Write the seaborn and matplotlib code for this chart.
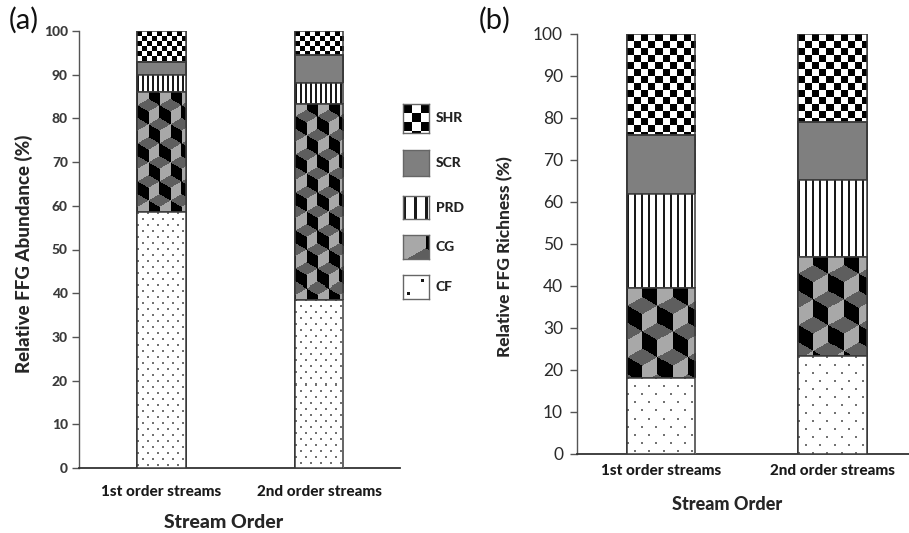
import numpy as np
import pandas as pd
import matplotlib
matplotlib.use("Agg")
import matplotlib.pyplot as plt
from matplotlib.patches import Rectangle
import seaborn as sns

# ── Style ─────────────────────────────────────────────────
sns.set_theme(style="white")
plt.rcParams["font.family"] = ["Lato", "DejaVu Sans"]

TXT = "#3a3a3a"
EDGE = "#3a3a3a"
GREY = "#7f7f7f"
HEAVY = 900

# ── Data ──────────────────────────────────────────────────
orders = ["1st order streams", "2nd order streams"]
groups = ["CF", "CG", "PRD", "SCR", "SHR"]          # bottom -> top

abund_cf  = [58.5, 38.5]
abund_cg  = [27.5, 44.8]
abund_prd = [4.0, 4.7]
abund_scr = [3.0, 6.5]
abund_shr = [7.0, 5.5]

rich_cf  = [18.2, 23.3]
rich_cg  = [21.3, 23.7]
rich_prd = [22.5, 18.2]
rich_scr = [14.0, 13.8]
rich_shr = [24.0, 21.0]

yticks = list(range(0, 101, 10))

abund = pd.DataFrame({"CF": abund_cf, "CG": abund_cg, "PRD": abund_prd,
                      "SCR": abund_scr, "SHR": abund_shr}, index=orders)
rich = pd.DataFrame({"CF": rich_cf, "CG": rich_cg, "PRD": rich_prd,
                     "SCR": rich_scr, "SHR": rich_shr}, index=orders)


# ── Fill textures (raster patterns clipped to the bars) ───
def tex_checker(h, w, cell):
    yy, xx = np.mgrid[0:h, 0:w]
    img = np.ones((h, w, 3))
    img[((yy // cell) + (xx // cell)) % 2 == 0] = 0.0
    return img


def tex_vlines(h, w, gap, lw):
    img = np.ones((h, w, 3))
    on = (np.arange(w) % gap) < lw
    img[:, on] = 0.1
    return img


def tex_dots(h, w, gx, gy):
    yy, xx = np.mgrid[0:h, 0:w]
    row = yy // gy
    shift = (row % 2) * (gx // 2)
    on = ((yy % gy) < 2) & (((xx + shift) % gx) < 2)
    img = np.ones((h, w, 3))
    img[on] = 0.45
    return img


def tex_cubes(h, w, size):
    s = size / np.sqrt(3)
    th = 3 * s
    yy, xx = np.mgrid[0:h, 0:w].astype(float)
    yy = -yy
    tx = np.mod(xx, size)
    ty = np.mod(yy, th)
    cents = [(0, 0), (size, 0), (0, th), (size, th), (size / 2, th / 2)]
    d = np.stack([(tx - cx) ** 2 + (ty - cy) ** 2 for cx, cy in cents])
    k = np.argmin(d, axis=0)
    cx = np.array([c[0] for c in cents])[k]
    cy = np.array([c[1] for c in cents])[k]
    ang = np.degrees(np.arctan2(ty - cy, tx - cx))
    img = np.zeros((h, w, 3))
    top = (ang > 30) & (ang <= 150)
    right = (ang > -90) & (ang <= 30)
    left = ~(top | right)
    img[top] = 0.37
    img[right] = 0.66
    img[left] = 0.0
    return img


def make_texture(name, h, w, scale):
    if name == "SHR":
        return tex_checker(h, w, int(round(5 * scale)))
    if name == "PRD":
        return tex_vlines(h, w, int(round(5 * scale)), 2)
    if name == "CF":
        return tex_dots(h, w, int(round(10 * scale)), int(round(6 * scale)))
    if name == "CG":
        return tex_cubes(h, w, 22 * scale)
    return None


# ── Figure ────────────────────────────────────────────────
W, H = 909, 533
fig = plt.figure(figsize=(W / 100, H / 100), dpi=100)
ax_a = fig.add_axes([79 / W, 1 - 468 / H, 321 / W, 437 / H])
ax_b = fig.add_axes([577 / W, 1 - 454 / H, 332 / W, 420 / H])


def stacked(ax, df, bar_w, xlim, scale):
    cum = df[groups].cumsum(axis=1)
    layers = []
    # draw from the top group down, each overlaying the one above it
    for i, g in enumerate(reversed(groups)):
        z = 2 + i
        sns.barplot(x=orders, y=cum[g].values, ax=ax, color="white" if g != "SCR" else GREY,
                    saturation=1, width=bar_w, edgecolor=EDGE, linewidth=1.1,
                    errorbar=None, zorder=z)
        layers.append((g, z, list(ax.containers[-1])))
    ax.set_xlim(*xlim)
    ax.set_ylim(0, 100)
    for g, z, bars in layers:
        for p in bars:
            bb = p.get_window_extent()
            h, w = int(round(bb.height)), int(round(bb.width))
            img = make_texture(g, h, w, scale)
            if img is not None:
                x0, y0 = p.get_x(), p.get_y()
                im = ax.imshow(img, extent=(x0, x0 + p.get_width(), y0, y0 + p.get_height()),
                               interpolation="nearest", aspect="auto", zorder=z + 0.3)
                im.set_clip_path(p)
            ax.add_patch(Rectangle((p.get_x(), p.get_y()), p.get_width(), p.get_height(),
                                   fill=False, edgecolor=EDGE, linewidth=1.1, zorder=z + 0.6))
    sns.despine(ax=ax)
    ax.spines["left"].set_color("#555555")
    ax.spines["bottom"].set_color("#333333")
    ax.spines["left"].set_linewidth(1.0)
    ax.spines["bottom"].set_linewidth(1.3)
    ax.set_yticks(yticks)
    ax.tick_params(axis="y", left=True, length=5, width=1, color="#555555", pad=3)
    ax.tick_params(axis="x", bottom=False, length=0)


# ── (a) Relative abundance ────────────────────────────────
stacked(ax_a, abund, 0.31, (-0.524, 1.514), 1.0)
ax_a.tick_params(axis="y", labelsize=10, labelcolor=TXT)
ax_a.tick_params(axis="x", labelsize=11, labelcolor="#1a1a1a", pad=12)
for t in ax_a.get_yticklabels() + ax_a.get_xticklabels():
    t.set_fontweight(HEAVY)
ax_a.set_ylabel("Relative FFG Abundance (%)", fontsize=13.5, fontweight=HEAVY, color="#262626")
ax_a.yaxis.set_label_coords(-0.143, 0.49)
ax_a.set_xlabel("Stream Order", fontsize=14, fontweight=HEAVY, color="#262626", va="center")
ax_a.xaxis.set_label_coords(0.449, -0.124)

# ── (b) Relative richness ─────────────────────────────────
stacked(ax_b, rich, 0.397, (-0.49, 1.446), 1.35)
ax_b.tick_params(axis="y", labelsize=12.5, labelcolor="#2a2a2a", pad=5)
ax_b.tick_params(axis="x", labelsize=11, labelcolor="#1a1a1a", pad=7)
for t in ax_b.get_xticklabels():
    t.set_fontweight(HEAVY)
ax_b.set_ylabel("Relative FFG Richness (%)", fontsize=12.5, fontweight=HEAVY, color="#262626")
ax_b.yaxis.set_label_coords(-0.193, 0.47)
ax_b.set_xlabel("Stream Order", fontsize=13, fontweight=HEAVY, color="#262626", va="center")
ax_b.xaxis.set_label_coords(0.452, -0.121)

# ── Panel letters ─────────────────────────────────────────
fig.text(9 / W, 1 - 20 / H, "(a)", fontsize=21, va="center", ha="left", color="#111111")
fig.text(479 / W, 1 - 20 / H, "(b)", fontsize=21, va="center", ha="left", color="#111111")

# ── Legend (drawn by hand: pattern swatches) ──────────────
leg_boxes = {"SHR": (104, 133), "SCR": (150, 176), "PRD": (196, 219),
             "CG": (235, 259), "CF": (275, 299)}
for g in reversed(groups):
    top, bot = leg_boxes[g]
    lax = fig.add_axes([403 / W, 1 - bot / H, 26 / W, (bot - top) / H])
    hpx, wpx = bot - top, 26
    if g == "SHR":
        img = tex_checker(hpx, wpx, 9)
    elif g == "PRD":
        img = tex_vlines(hpx, wpx, 11, 3)
    elif g == "CF":
        img = np.ones((hpx, wpx, 3))
        img[4:7, 18:21] = 0.1
        img[17:20, 4:7] = 0.1
    elif g == "CG":
        img = tex_cubes(hpx, wpx, 44)
    else:
        img = np.full((hpx, wpx, 3), 0.5)
    lax.imshow(img, interpolation="nearest", aspect="auto")
    lax.set_xticks([])
    lax.set_yticks([])
    for sp in lax.spines.values():
        sp.set_color("#666666")
        sp.set_linewidth(1.0)
    fig.text(436 / W, 1 - (top + bot) / 2 / H, g, fontsize=10, fontweight=HEAVY,
             va="center", ha="left", color="#222222")

fig.savefig("out.png", dpi=100, facecolor="white")
